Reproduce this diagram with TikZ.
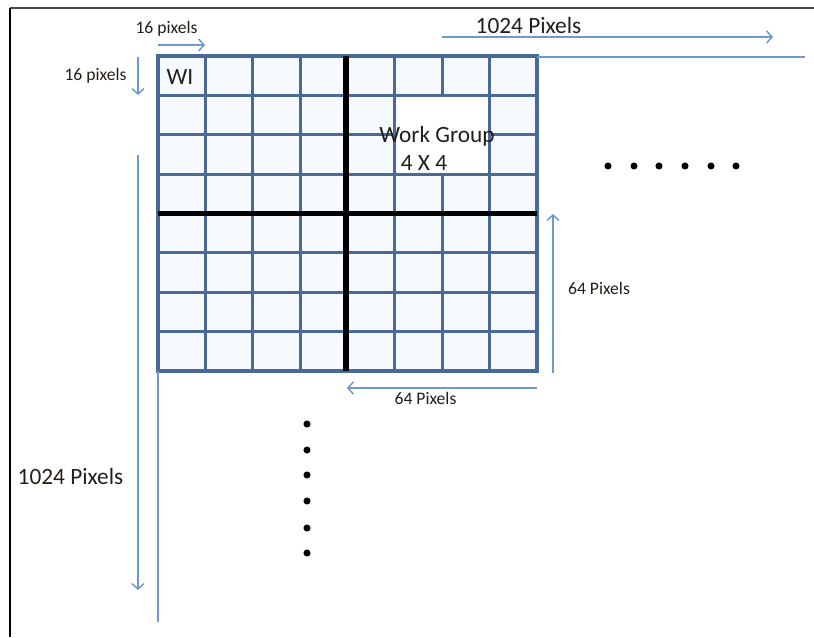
\documentclass[tikz,border=0pt]{standalone}
\usepackage{fontspec}
\setmainfont{Carlito}
\usetikzlibrary{arrows.meta,positioning,calc}
\definecolor{gridbleu}{RGB}{72,106,148}
\definecolor{cellfond}{RGB}{246,249,253}
\definecolor{dimbleu}{RGB}{110,152,206}
\definecolor{cadregris}{RGB}{70,70,70}
\definecolor{textnoir}{RGB}{35,30,25}
\tikzset{
  dimarrow/.style={-{Straight Barb[length=4pt,width=9pt]}, line width=1.1pt, dimbleu},
  dimline/.style={line width=1.4pt, dimbleu},
  dimlabel/.style={font=\fontsize{13.2}{15}\selectfont, text=textnoir, inner sep=0pt},
  biglabel/.style={font=\fontsize{17.5}{20}\selectfont, text=textnoir, inner sep=0pt},
  gridline/.style={line width=2.3pt, gridbleu, line cap=rect},
  wgline/.style={line width=3.8pt, black},
  dotmark/.style={circle, fill=black, inner sep=0pt, minimum size=5.3pt}
}
\begin{document}
\begin{tikzpicture}[x=0.75pt, y=-0.75pt]
  \useasboundingbox (0,0) rectangle (814,637);

  % Frame
  \draw[cadregris, line width=2.2pt] (10,8) -- (814,8);
  \draw[black, line width=1.5pt] (10,8) -- (10,637);

  % Grid corners
  \coordinate (gNW) at (158,56);
  \coordinate (gSE) at (537,371);

  % Cells
  \fill[cellfond] (gNW) rectangle (gSE);
  \foreach \i in {0,...,8} {
    \draw[gridline] ({158+47.375*\i},56) -- ({158+47.375*\i},371);
    \draw[gridline] (158,{56+39.375*\i}) -- (537,{56+39.375*\i});
  }
  \fill[white] (396.5,97) rectangle (488,172.5);

  % Work group borders
  \draw[wgline] (346,56) -- (346,371);
  \draw[wgline] (158,213.5) -- (537,213.5);

  % Labels inside grid
  \node[biglabel] (wi) at (180,77) {WI};
  \node[biglabel] (wg) at (437,136) {Work Group};
  \node[biglabel] (wgsize) at (424,163) {4 X 4};

  % Dimension ends
  \coordinate (a16s) at (158,45);   \coordinate (a16e) at (205,45);
  \coordinate (b16s) at (138,57);   \coordinate (b16e) at (138,95);
  \coordinate (a1ks) at (442,37);   \coordinate (a1ke) at (773,37);
  \coordinate (b1ks) at (138,155);  \coordinate (b1ke) at (138,590);
  \coordinate (xts) at (537,57);    \coordinate (xte) at (805,57);
  \coordinate (xls) at (158,371);   \coordinate (xle) at (158,622);
  \coordinate (r64s) at (553,373);  \coordinate (r64e) at (553,214);
  \coordinate (d64s) at (537,388);  \coordinate (d64e) at (347,388);

  % Dimension arrows
  \draw[dimarrow] (a16s) -- (a16e);
  \draw[dimarrow] (b16s) -- (b16e);
  \draw[dimarrow] (a1ks) -- (a1ke);
  \draw[dimarrow] (b1ks) -- (b1ke);
  \draw[dimarrow] (r64s) -- (r64e);
  \draw[dimarrow] (d64s) -- (d64e);
  \draw[dimline] (xts) -- (xte);
  \draw[dimline] (xls) -- (xle);

  % Dimension labels
  \node[dimlabel] (l16a) at (166.5,29) {16 pixels};
  \node[dimlabel] (l16b) at (95.5,76) {16 pixels};
  \node[biglabel] (l1ka) at (528.5,25) {1024 Pixels};
  \node[biglabel] (l1kb) at (70.5,476) {1024 Pixels};
  \node[dimlabel] (l64r) at (599,288) {64 Pixels};
  \node[dimlabel] (l64d) at (425.5,398) {64 Pixels};

  % Ellipsis dots
  \foreach \x [count=\k] in {608,634,659,685,711,736}
    \node[dotmark] (hdot\k) at (\x,166) {};
  \foreach \y [count=\k] in {424,450,475,501,528,553}
    \node[dotmark] (vdot\k) at (307,\y) {};
\end{tikzpicture}
\end{document}
